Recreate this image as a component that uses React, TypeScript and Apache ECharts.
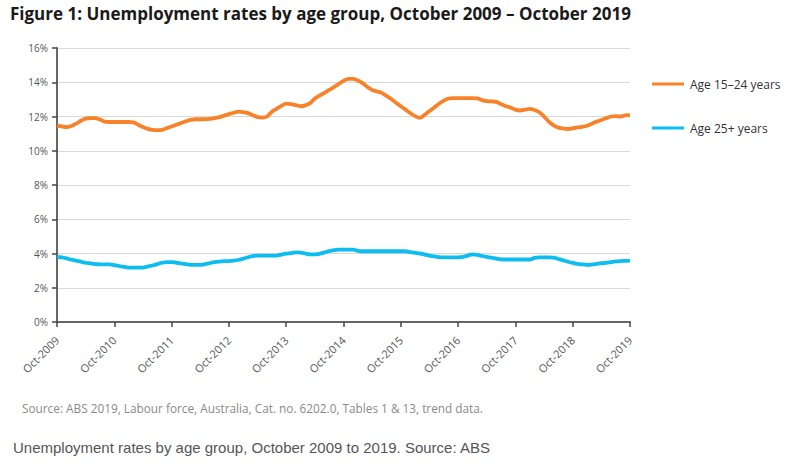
import React, { useEffect, useRef } from "react";
import * as echarts from "echarts";

// Monthly trend unemployment rates (%), Oct 2009 – Oct 2019
const youthRate: number[] = [
  11.48, 11.42, 11.38, 11.45, 11.58, 11.75, 11.88, 11.9, 11.9, 11.82, 11.7, 11.68,
  11.68, 11.68, 11.68, 11.68, 11.66, 11.52, 11.38, 11.28, 11.22, 11.2, 11.22, 11.32,
  11.42, 11.52, 11.62, 11.72, 11.8, 11.84, 11.84, 11.84, 11.86, 11.9, 11.96, 12.05,
  12.14, 12.22, 12.28, 12.26, 12.2, 12.08, 11.96, 11.94, 12.0, 12.28, 12.45, 12.62,
  12.75, 12.72, 12.67, 12.6, 12.65, 12.78, 13.05, 13.22, 13.38, 13.55, 13.72, 13.9,
  14.08, 14.2, 14.2, 14.1, 13.95, 13.72, 13.55, 13.46, 13.38, 13.2, 13.02, 12.8,
  12.6, 12.4, 12.2, 12.02, 11.92, 12.1, 12.32, 12.52, 12.75, 12.93, 13.05, 13.07,
  13.07, 13.07, 13.07, 13.07, 13.06, 12.96, 12.9, 12.88, 12.85, 12.72, 12.6, 12.52,
  12.4, 12.35, 12.4, 12.45, 12.38, 12.25, 12.0, 11.7, 11.48, 11.35, 11.3, 11.27,
  11.3, 11.36, 11.4, 11.46, 11.58, 11.7, 11.8, 11.9, 12.0, 12.02, 12.0, 12.06,
  12.1,
];

const adultRate: number[] = [
  3.8, 3.78, 3.72, 3.64, 3.58, 3.52, 3.46, 3.42, 3.38, 3.37, 3.36, 3.36,
  3.32, 3.27, 3.22, 3.18, 3.17, 3.17, 3.18, 3.24, 3.3, 3.38, 3.46, 3.5,
  3.5, 3.46, 3.42, 3.38, 3.34, 3.34, 3.34, 3.38, 3.44, 3.5, 3.53, 3.55,
  3.56, 3.58, 3.62, 3.7, 3.78, 3.85, 3.88, 3.88, 3.88, 3.88, 3.88, 3.94,
  3.99, 4.02, 4.06, 4.05, 4.0, 3.95, 3.95, 3.98, 4.06, 4.14, 4.2, 4.23,
  4.23, 4.23, 4.23, 4.16, 4.13, 4.13, 4.13, 4.13, 4.13, 4.13, 4.13, 4.13,
  4.13, 4.13, 4.08, 4.03, 4.0, 3.94, 3.88, 3.83, 3.79, 3.77, 3.77, 3.77,
  3.77, 3.8, 3.88, 3.95, 3.92, 3.86, 3.8, 3.76, 3.7, 3.66, 3.65, 3.65,
  3.65, 3.65, 3.65, 3.65, 3.74, 3.77, 3.77, 3.77, 3.76, 3.68, 3.6, 3.52,
  3.45, 3.4, 3.36, 3.34, 3.35, 3.4, 3.43, 3.46, 3.5, 3.54, 3.56, 3.57,
  3.58,
];

const monthNames = ["Jan", "Feb", "Mar", "Apr", "May", "Jun", "Jul", "Aug", "Sep", "Oct", "Nov", "Dec"];
// One label per month from Oct-2009
const months: string[] = youthRate.map((_, i) => {
  const m = 9 + i;
  return `${monthNames[m % 12]}-${2009 + Math.floor(m / 12)}`;
});

const seriesNames = ["Age 15\u201324 years", "Age 25+ years"];
const seriesColors = ["#F7822A", "#0DBDF0"];

const titleText = "Figure 1: Unemployment rates by age group, October 2009 \u2013 October 2019";
const sourceText = "Source: ABS 2019, Labour force, Australia, Cat. no. 6202.0, Tables 1 & 13, trend data.";
const captionText = "Unemployment rates by age group, October 2009 to 2019. Source: ABS";

export default function App() {
  const ref = useRef<HTMLDivElement>(null);

  useEffect(() => {
    if (!ref.current) return;
    const chart = echarts.init(ref.current, undefined, { renderer: "svg" });
    const font = "'Open Sans', Lato, sans-serif";
    chart.setOption({
      animation: false,
      backgroundColor: "#ffffff",
      textStyle: { fontFamily: font },
      grid: { left: 57, right: 171, top: 48, bottom: 154 },
      legend: {
        orient: "vertical",
        left: 652,
        top: 78,
        padding: 0,
        itemGap: 32,
        itemWidth: 32,
        itemHeight: 3,
        icon: "rect",
        textStyle: { fontSize: 12, color: "#333", fontFamily: font, padding: [0, 0, 0, 1] },
        data: seriesNames,
      },
      xAxis: {
        type: "category",
        data: months,
        boundaryGap: false,
        axisLine: { lineStyle: { color: "#666", width: 2 } },
        axisTick: { interval: 11, length: 5, lineStyle: { color: "#444", width: 1.5 } },
        axisLabel: {
          interval: 11,
          rotate: 45,
          fontSize: 11,
          color: "#555",
          margin: 16,
          fontFamily: font,
        },
        splitLine: { show: false },
      },
      yAxis: {
        type: "value",
        min: 0,
        max: 16,
        interval: 2,
        axisLine: { show: true, lineStyle: { color: "#666", width: 2 } },
        axisTick: { show: true, length: 5, lineStyle: { color: "#444", width: 1.5 } },
        axisLabel: { formatter: "{value}%", fontSize: 10, color: "#555", margin: 9, fontFamily: font },
        splitLine: { lineStyle: { color: "#d9d9d9", width: 1 } },
      },
      series: [
        {
          name: seriesNames[0],
          type: "line",
          data: youthRate,
          showSymbol: false,
          smooth: 0.3,
          lineStyle: { color: seriesColors[0], width: 3.8 },
          itemStyle: { color: seriesColors[0] },
        },
        {
          name: seriesNames[1],
          type: "line",
          data: adultRate,
          showSymbol: false,
          smooth: 0.3,
          lineStyle: { color: seriesColors[1], width: 3.8 },
          itemStyle: { color: seriesColors[1] },
        },
      ],
      graphic: [
        {
          type: "text",
          left: 10,
          top: 5,
          style: { text: titleText, fontSize: 17, fontWeight: "bold", fill: "#1a1a1a", fontFamily: font },
        },
        {
          type: "text",
          left: 22,
          top: 402,
          style: { text: sourceText, fontSize: 11.8, fill: "#8a8a8a", fontFamily: font },
        },
        {
          type: "text",
          left: 13,
          top: 440,
          style: {
            text: captionText,
            fontSize: 15,
            fill: "#555",
            fontFamily: "'Liberation Sans', Arial, sans-serif",
          },
        },
      ],
    });
    return () => chart.dispose();
  }, []);

  return (
    <div
      ref={ref}
      style={{ position: "fixed", left: 0, top: 0, width: 801, height: 476 }}
    />
  );
}
